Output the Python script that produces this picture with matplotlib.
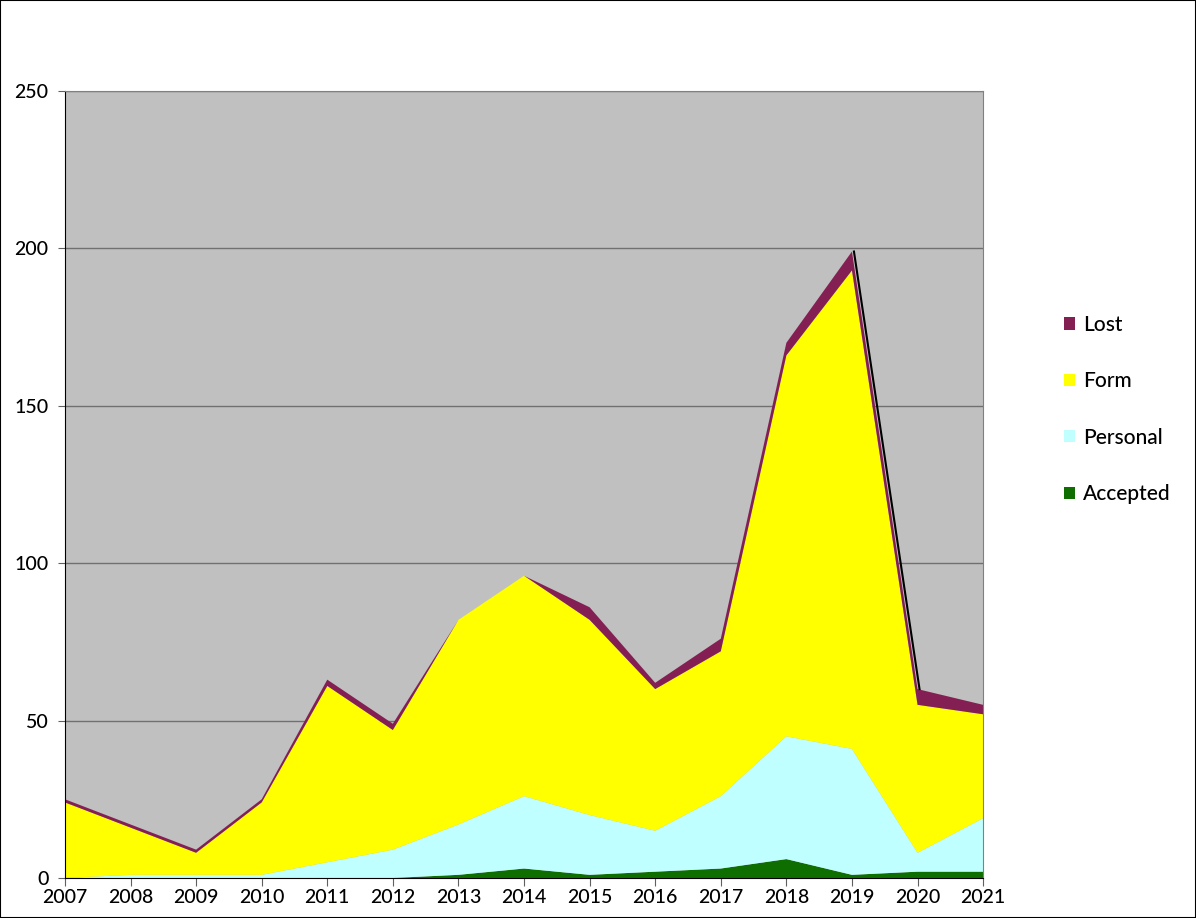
import matplotlib
matplotlib.use("Agg")
import matplotlib.pyplot as plt
import matplotlib.transforms as mtransforms
from matplotlib.patches import Patch, Rectangle

years = [2007, 2008, 2009, 2010, 2011, 2012, 2013, 2014, 2015, 2016, 2017, 2018, 2019, 2020, 2021]
accepted = [0, 0, 0, 0, 0, 0, 1, 3, 1, 2, 3, 6, 1, 2, 2]
personal = [0, 1, 1, 1, 5, 9, 16, 23, 19, 13, 23, 39, 40, 6, 17]
form = [24, 15, 7, 23, 56, 38, 65, 70, 62, 45, 46, 121, 152, 47, 33]
lost = [1, 1, 1, 1, 2, 2, 0, 0, 4, 2, 4, 4, 6, 5, 3]

series_names = ["Accepted", "Personal", "Form", "Lost"]
colors = ["#0F6E00", "#C0FFFF", "#FFFF00", "#841F54"]

plt.rcParams['font.family'] = ['Lato', 'DejaVu Sans']
plt.rcParams['font.weight'] = 'medium'

fig = plt.figure(figsize=(11.96, 9.18), dpi=100)
ax = fig.add_axes([0.0543, 0.0436, 0.7677, 0.8573])
ax.set_facecolor("#C0C0C0")

ax.stackplot(years, accepted, personal, form, lost, colors=colors, linewidth=0)

# black edge on the drop after 2019
totals = [a + p + f + l for a, p, f, l in zip(accepted, personal, form, lost)]
shift = mtransforms.offset_copy(ax.transData, fig=fig, x=2, y=0, units='dots')
ax.plot(years[12:14], totals[12:14], color="black", lw=1.5, transform=shift)

ax.set_xlim(2007, 2021)
ax.set_ylim(0, 250)
ax.set_yticks(range(0, 251, 50))
ax.set_xticks(years)
ax.yaxis.grid(True, color="#707070", lw=1)
ax.set_axisbelow(True)
for a in ax.collections:
    a.set_zorder(2)

ax.tick_params(axis='y', length=5, direction='out', labelsize=14, pad=7, color="#606060")
ax.tick_params(axis='x', length=6, direction='out', labelsize=14, pad=2, color="#606060")
ax.spines['left'].set_color("black")
ax.spines['bottom'].set_color("black")
ax.spines['top'].set_color("#808080")
ax.spines['right'].set_color("#808080")

handles = [Patch(facecolor=c, edgecolor='none') for c in colors][::-1]
fig.legend(handles, series_names[::-1], loc='center left', bbox_to_anchor=(0.874, 0.554),
           frameon=False, fontsize=15, labelspacing=1.75, handlelength=0.53,
           handleheight=0.53, handletextpad=0.4)

fig.patches.append(Rectangle((0, 0), 1, 1, transform=fig.transFigure, fill=False,
                             edgecolor="black", lw=1.5))

fig.savefig("out.png", dpi=100)
